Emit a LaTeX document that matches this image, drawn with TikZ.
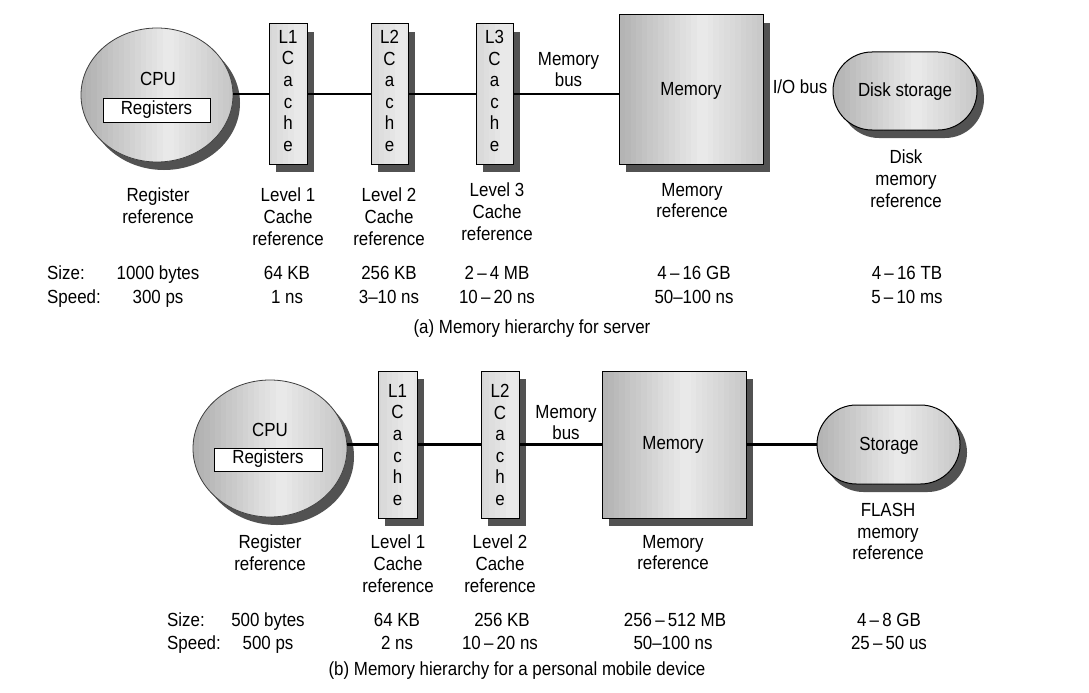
\documentclass[tikz,border=0pt]{standalone}
\usepackage{fontspec}
\setmainfont[FakeStretch=0.89]{Liberation Sans}
\usetikzlibrary{shapes.geometric,shapes.misc,shadows}
\begin{document}
\begin{tikzpicture}[x=1pt,y=-1pt,
  font=\fontsize{19}{21.6}\selectfont,
  shad/.style={drop shadow={shadow xshift=7pt,shadow yshift=-8pt,opacity=1,fill=black!68}},
  shiny/.style={shad, fill=black!20, path picture={
    \begin{scope}[shift={(path picture bounding box.center)}, rotate=-40]
    \foreach \i in {0,...,39}{
      \pgfmathsetmacro{\t}{\i/39}
      \pgfmathsetmacro{\c}{\t<0.55 ? 40-32*\t/0.55 : 8+22*(\t-0.55)/0.45}
      \fill[black!\c] (-110+\i*5.5,-110) rectangle (-110+\i*5.5+6.2,110);
    }
    \end{scope}}},
  cpu/.style={ellipse, draw=black!75, line width=0.8pt, shiny, inner sep=0},
  regbox/.style={draw, line width=1pt, fill=white, inner sep=0, text height=12.5pt, text depth=4pt},
  cachebox/.style={draw, line width=1pt, shiny, inner sep=0, minimum height=140pt},
  membox/.style={draw, line width=1pt, shiny, inner sep=0},
  storbox/.style={rounded rectangle, draw, line width=1pt, shiny, inner sep=0},
  lbl/.style={anchor=north, align=center, inner sep=0},
  lft/.style={anchor=north west, inner sep=0},
  bus/.style={line width=2.2pt}
]
\fill[white] (0,0) rectangle (1089,693);
\useasboundingbox (0,0) rectangle (1089,693);

% ---------------- (a) server ----------------
\node[cpu, minimum width=152pt, minimum height=134pt] (cpuA) at (157,95) {};
\node[lbl] (cpuAt) at (158,72.5) {CPU};
\node[regbox, minimum width=107pt, minimum height=24pt] (regA) at (156.5,110) {Registers};
\node[cachebox, minimum width=38pt] (l1A) at (288,94) {};
\node[cachebox, minimum width=37pt] (l2A) at (389.5,94) {};
\node[cachebox, minimum width=37pt] (l3A) at (494.5,94) {};
\node[lbl] (l1At) at (288,30) {L1\\C\\a\\c\\h\\e};
\node[lbl] (l2At) at (389.5,30) {L2\\C\\a\\c\\h\\e};
\node[lbl] (l3At) at (494.5,30) {L3\\C\\a\\c\\h\\e};
\node[membox, minimum width=144pt, minimum height=149pt] (memA) at (691,89.5) {};
\node[lbl] (memAt) at (691,82) {Memory};
\node[storbox, minimum width=144pt, minimum height=78pt] (diskA) at (905,91) {};
\node[lbl] (diskAt) at (905,83) {Disk storage};

\draw[bus] (l1A.west -| cpuA.east) -- (l1A.west);
\draw[bus] (l1A) -- (l2A);
\draw[bus] (l2A) -- (l3A);
\draw[bus] (l3A.east) -- (l3A.east -| memA.west);

\node[lbl] (mbusA) at (568.5,52) {Memory\\bus};
\node[lbl] (iobusA) at (800,80) {I/O bus};

\node[lbl] (rrA) at (158,188) {Register\\reference};
\node[lbl] (c1A) at (288,188) {Level 1\\Cache\\reference};
\node[lbl] (c2A) at (389,188) {Level 2\\Cache\\reference};
\node[lbl] (c3A) at (497,183) {Level 3\\Cache\\reference};
\node[lbl] (mrA) at (692,183) {Memory\\reference};
\node[lbl] (drA) at (906,150) {Disk\\memory\\reference};

\node[lft] (sizeA) at (47,266) {Size:};
\node[lft] (speedA) at (47,290) {Speed:};
\node[lbl] (s1A) at (158,266) {1000 bytes};
\node[lbl] (t1A) at (158,290) {300 ps};
\node[lbl] (s2A) at (287,266) {64 KB};
\node[lbl] (t2A) at (287,290) {1 ns};
\node[lbl] (s3A) at (389,266) {256 KB};
\node[lbl] (t3A) at (389,290) {3–10 ns};
\node[lbl] (s4A) at (497,266) {2\,–\,4 MB};
\node[lbl] (t4A) at (497,290) {10\,–\,20 ns};
\node[lbl] (s5A) at (694,266) {4\,–\,16 GB};
\node[lbl] (t5A) at (694,290) {50–100 ns};
\node[lbl] (s6A) at (907,266) {4\,–\,16 TB};
\node[lbl] (t6A) at (907,290) {5\,–\,10 ms};
\node[lbl] (capA) at (532,320) {(a) Memory hierarchy for server};

% ---------------- (b) personal mobile device ----------------
\node[cpu, minimum width=154pt, minimum height=137pt] (cpuB) at (270,448.5) {};
\node[lbl] (cpuBt) at (270,423.5) {CPU};
\node[regbox, minimum width=108pt, minimum height=23pt] (regB) at (268,459.5) {Registers};
\node[cachebox, minimum width=39pt, minimum height=147pt] (l1B) at (397.5,444.5) {};
\node[cachebox, minimum width=38pt, minimum height=147pt] (l2B) at (500,444.5) {};
\node[lbl] (l1Bt) at (397.5,384) {L1\\C\\a\\c\\h\\e};
\node[lbl] (l2Bt) at (500,384) {L2\\C\\a\\c\\h\\e};
\node[membox, minimum width=144pt, minimum height=147pt] (memB) at (674,444.5) {};
\node[lbl] (memBt) at (673,436) {Memory};
\node[storbox, minimum width=143pt, minimum height=79pt] (storB) at (888.5,444.5) {};
\node[lbl] (storBt) at (889,437) {Storage};

\draw[bus] (l1B.west -| cpuB.east) -- (l1B.west);
\draw[bus] (l1B) -- (l2B);
\draw[bus] (l2B) -- (memB);
\draw[bus] (memB) -- (storB);

\node[lbl] (mbusB) at (566,405) {Memory\\bus};

\node[lbl] (rrB) at (270,535) {Register\\reference};
\node[lbl] (c1B) at (398,535) {Level 1\\Cache\\reference};
\node[lbl] (c2B) at (500,535) {Level 2\\Cache\\reference};
\node[lbl] (mrB) at (673,535) {Memory\\reference};
\node[lbl] (frB) at (888,503) {FLASH\\memory\\reference};

\node[lft] (sizeB) at (167,613) {Size:};
\node[lft] (speedB) at (167,636) {Speed:};
\node[lbl] (s1B) at (268,613) {500 bytes};
\node[lbl] (t1B) at (268,636) {500 ps};
\node[lbl] (s2B) at (397,613) {64 KB};
\node[lbl] (t2B) at (397,636) {2 ns};
\node[lbl] (s3B) at (502,613) {256 KB};
\node[lbl] (t3B) at (500,636) {10\,–\,20 ns};
\node[lbl] (s4B) at (675,613) {256\,–\,512 MB};
\node[lbl] (t4B) at (673,636) {50–100 ns};
\node[lbl] (s5B) at (889,613) {4\,–\,8 GB};
\node[lbl] (t5B) at (889,636) {25\,–\,50 us};
\node[lbl] (capB) at (517,662) {(b) Memory hierarchy for a personal mobile device};
\end{tikzpicture}
\end{document}
